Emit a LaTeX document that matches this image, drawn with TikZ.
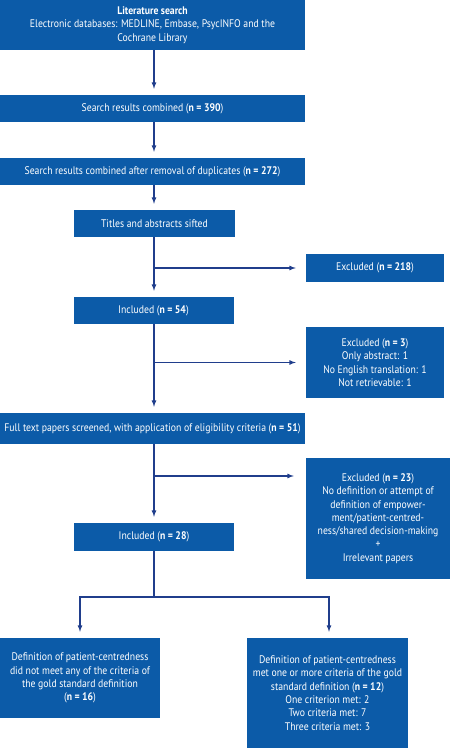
\documentclass[tikz,border=0pt]{standalone}
\usepackage{fontspec}
\setmainfont{PT Sans}[FakeStretch=0.885]
\definecolor{boxblue}{RGB}{12,91,168}
\definecolor{linenavy}{RGB}{32,62,140}
\begin{document}
\begin{tikzpicture}[>=latex,x=1pt,y=-1pt,
  blk/.style={fill=boxblue,text=white,align=center,inner sep=0pt,
    font=\fontsize{11}{13.3}\selectfont},
  flow/.style={linenavy,line width=1.2pt}]
\useasboundingbox (0,0) rectangle (450,748);

\node[blk,minimum width=305,minimum height=50] (lit) at (152.5,25)
  {\textbf{Literature search}\\Electronic databases: MEDLINE, Embase, PsycINFO and the\\Cochrane Library};
\node[blk,minimum width=305,minimum height=27] (comb) at (152.5,108.5)
  {Search results combined (\textbf{n = 390})};
\node[blk,minimum width=305,minimum height=27] (dedup) at (152.5,171.5)
  {Search results combined after removal of duplicates (\textbf{n = 272})};
\node[blk,minimum width=161,minimum height=27] (sift) at (154.5,223.5)
  {Titles and abstracts sifted};
\node[blk,minimum width=138,minimum height=28] (exa) at (375,268)
  {Excluded (\textbf{n = 218})};
\node[blk,minimum width=160,minimum height=27] (inca) at (153.5,310.5)
  {Included (\textbf{n = 54})};
\node[blk,minimum width=138,minimum height=71] (exb) at (375,362.5)
  {Excluded (\textbf{n = 3})\\Only abstract: 1\\No English translation: 1\\Not retrievable: 1};
\node[blk,minimum width=305,minimum height=31] (full) at (152.5,428.5)
  {Full text papers screened, with application of eligibility criteria (\textbf{n = 51})};
\node[blk,minimum width=144,minimum height=121] (exc) at (378,518.5)
  {Excluded (\textbf{n = 23})\\No definition or attempt of\\definition of empower-\\ment/patient-centred-\\ness/shared decision-making\\+\\Irrelevant papers};
\node[blk,minimum width=160,minimum height=28] (incb) at (154,537)
  {Included (\textbf{n = 28})};
\node[blk,minimum width=160,minimum height=80] (none) at (80,678)
  {Definition of patient-centredness\\did not meet any of the criteria of\\the gold standard definition\\(\textbf{n = 16})};
\node[blk,minimum width=161,minimum height=110] (some) at (327.5,693)
  {Definition of patient-centredness\\met one or more criteria of the gold\\standard definition (\textbf{n = 12})\\One criterion met: 2\\Two criteria met: 7\\Three criteria met: 3};

\coordinate (split) at (154,597);

% main column
\foreach \a/\b in {lit/comb,comb/dedup,dedup/sift,sift/inca,inca/full,full/incb}
  \draw[flow,->,shorten >=6pt] (\a.south-|154,0) -- (\b.north-|154,0);

% exclusions
\foreach \e in {exa,exb}
  \draw[flow,->,shorten >=10pt] (154,0|-\e.west) -- (\e.west);
\draw[flow,->,shorten >=12pt] (154,476) -- (exc.west|-154,476);

% final split
\draw[flow] (incb.south-|split) -- (split);
\draw[flow,->,shorten >=6pt] (split) -| (none.north);
\draw[flow,->,shorten >=6pt] (split) -| (some.north-|329,0);
\end{tikzpicture}
\end{document}
